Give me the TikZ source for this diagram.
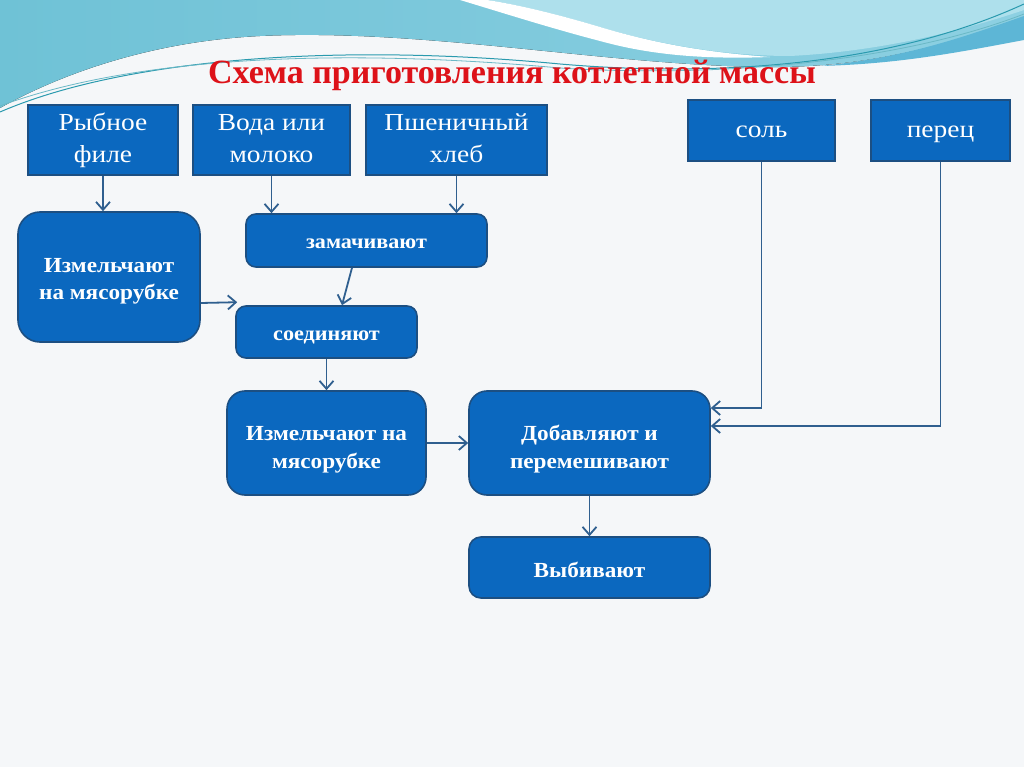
\documentclass[tikz,border=0pt]{standalone}
\usepackage{fontspec}
\setmainfont{Liberation Serif}
\newfontfamily\plainfam[FakeStretch=1.12]{Liberation Serif}
\newfontfamily\boldfam[FakeStretch=1.08]{Liberation Serif Bold}
\usetikzlibrary{arrows.meta}
\definecolor{bgc}{HTML}{F5F7F9}
\definecolor{cyanA}{HTML}{6FC2D6}
\definecolor{cyanB}{HTML}{8DD0E2}
\definecolor{lightcy}{HTML}{AEE0EC}
\definecolor{bandblue}{HTML}{5DB6D6}
\definecolor{tealln}{HTML}{2A9AAE}
\definecolor{boxblue}{HTML}{0B68BF}
\definecolor{boxedge}{HTML}{1C4F82}
\definecolor{arrc}{HTML}{2F5F8F}
\definecolor{titlered}{HTML}{DD1219}
\tikzset{
  sq/.style={rectangle, fill=boxblue, draw=boxedge, line width=1.6pt, text=white, align=center, inner sep=0pt,
    font=\plainfam\fontsize{24.5}{32}\selectfont},
  two/.style={text height=#1, text depth=0pt},
  rb/.style={rectangle, rounded corners=#1, fill=boxblue, draw=boxedge, line width=1.6pt, text=white, align=center, inner sep=0pt,
    font=\boldfam\fontsize{21.5}{27.5}\selectfont},
  small/.style={font=\boldfam\fontsize{20.5}{24}\selectfont},
  arr/.style={draw=arrc, line width=1.8pt, -{Straight Barb[length=8pt,width=14pt]}}
}
\begin{document}
\begin{tikzpicture}[x=1pt,y=-1pt]
\useasboundingbox (0,0) rectangle (1024,767);
\fill[bgc] (0,0) rectangle (1024,767);
% decorative waves
\fill[left color=cyanA, right color=cyanB] (0,0) -- (1024,0) -- (1024,18) .. controls (960,40) and (880,66) .. (780,67) .. controls (620,68) and (430,28) .. (260,36) .. controls (140,42) and (50,80) .. (0,108) -- cycle;
\fill[lightcy] (487,0) -- (1024,0) -- (1024,10) .. controls (950,35) and (870,52) .. (790,56) .. controls (720,56) and (650,42) .. (600,27) .. controls (560,15) and (520,5) .. (487,0) -- cycle;
\fill[white] (460,0) -- (487,0) .. controls (520,5) and (560,15) .. (600,27) .. controls (650,42) and (700,52) .. (770,57) .. controls (690,60) and (640,52) .. (600,41) .. controls (550,28) and (500,12) .. (460,0) -- cycle;
\fill[bandblue] (1024,16) .. controls (950,42) and (900,58) .. (820,66) .. controls (900,64) and (960,52) .. (1024,40) -- cycle;
\draw[tealln, line width=1pt] (0,112) .. controls (120,60) and (330,42) .. (560,64) .. controls (700,76) and (880,70) .. (1024,4);
\draw[tealln!70, line width=0.8pt] (0,106) .. controls (130,58) and (330,47) .. (560,68) .. controls (720,78) and (900,62) .. (1024,14);
% title
\node[font=\bfseries\fontsize{34}{40}\selectfont, text=titlered] (title) at (512,75) {Схема приготовления котлетной массы};
% top row
\node[sq, two=46pt, minimum width=150pt, minimum height=70pt] (fish) at (103,140) {Рыбное\\филе};
\node[sq, two=46pt, minimum width=157pt, minimum height=70pt] (water) at (271.5,140) {Вода или\\молоко};
\node[sq, two=46pt, minimum width=181pt, minimum height=70pt] (bread) at (456.5,140) {Пшеничный\\хлеб};
\node[sq, two=14pt, minimum width=147pt, minimum height=61pt] (salt) at (761.5,130.5) {соль};
\node[sq, two=14pt, minimum width=139pt, minimum height=61pt] (pepper) at (940.5,130.5) {перец};
% process boxes
\node[rb=22pt, two=45pt, minimum width=182pt, minimum height=130pt] (mince1) at (109,277) {Измельчают\\на мясорубке};
\node[rb=10pt, small, two=15pt, minimum width=241pt, minimum height=53pt] (soak) at (366.5,240.5) {замачивают};
\node[rb=10pt, small, two=16pt, minimum width=181pt, minimum height=52pt] (combine) at (326.5,332) {соединяют};
\node[rb=18pt, two=50pt, minimum width=199pt, minimum height=104pt] (mince2) at (326.5,443) {Измельчают на\\мясорубке};
\node[rb=18pt, two=50pt, minimum width=241pt, minimum height=104pt] (add) at (589.5,443) {Добавляют и\\перемешивают};
\node[rb=12pt, two=19pt, minimum width=241pt, minimum height=61pt] (beat) at (589.5,567.5) {Выбивают};
% connectors
\draw[arr] (fish.south) -- (fish.south |- mince1.north);
\draw[arr] (water.south) -- (water.south |- soak.north);
\draw[arr] (bread.south) -- (bread.south |- soak.north);
\draw[arr] ([xshift=-14.5pt]soak.south) -- ([xshift=15.5pt]combine.north);
\draw[arr] ([yshift=-26pt]mince1.east) -- ([xshift=2pt,yshift=3pt]combine.north west);
\draw[arr] (combine.south) -- (mince2.north);
\draw[arr] (mince2.east) -- (add.west);
\draw[arr] (salt.south) |- ([yshift=35pt]add.east);
\draw[arr] (pepper.south) |- ([yshift=17pt]add.east);
\draw[arr] (add.south) -- (beat.north);
\end{tikzpicture}
\end{document}
